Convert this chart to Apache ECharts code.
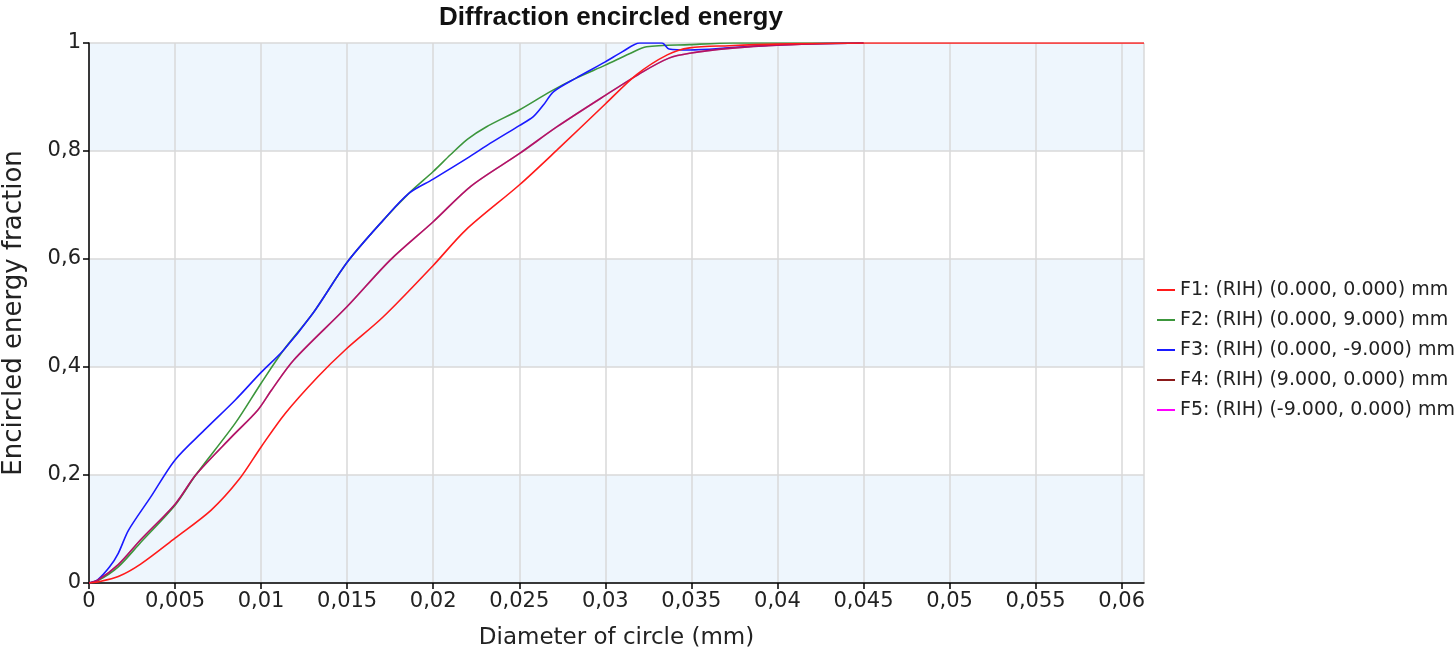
<!DOCTYPE html>
<html>
<head>
<meta charset="utf-8">
<script src="https://cdn.jsdelivr.net/npm/echarts@6/dist/echarts.min.js"></script>
<style>
html,body{margin:0;padding:0;background:#fff;}
#chart{width:1456px;height:655px;}
</style>
</head>
<body>
<div id="chart"></div>
<script>
// Data: [diameter (mm), encircled energy fraction]
const seriesNames = [
  'F1: (RIH) (0.000, 0.000) mm',
  'F2: (RIH) (0.000, 9.000) mm',
  'F3: (RIH) (0.000, -9.000) mm',
  'F4: (RIH) (9.000, 0.000) mm',
  'F5: (RIH) (-9.000, 0.000) mm'
];
const xTickValues = [0,0.005,0.01,0.015,0.02,0.025,0.03,0.035,0.04,0.045,0.05,0.055,0.06];
const yTickValues = [0,0.2,0.4,0.6,0.8,1];

const f1 = [[0,0],[0.0005,0.002],[0.0017,0.012],[0.003,0.035],[0.005,0.083],[0.0071,0.135],[0.0087,0.191],[0.01,0.252],[0.0114,0.314],[0.0133,0.382],[0.0149,0.432],[0.0171,0.493],[0.02,0.588],[0.0219,0.654],[0.025,0.737],[0.0272,0.802],[0.03,0.887],[0.0318,0.941],[0.0336,0.978],[0.0349,0.991],[0.0372,0.995],[0.04,0.998],[0.045,1.0],[0.0613,1.0]];
const f2 = [[0,0],[0.0005,0.004],[0.0017,0.03],[0.003,0.075],[0.005,0.144],[0.0062,0.2],[0.0085,0.296],[0.01,0.37],[0.0113,0.431],[0.013,0.499],[0.015,0.594],[0.0171,0.672],[0.0186,0.722],[0.02,0.762],[0.021,0.793],[0.022,0.822],[0.0231,0.845],[0.025,0.876],[0.0268,0.91],[0.0283,0.935],[0.03,0.959],[0.0314,0.98],[0.0324,0.993],[0.0349,0.997],[0.0374,1.0],[0.045,1.0]];
const f3 = [[0,0],[0.0005,0.006],[0.0012,0.03],[0.0017,0.055],[0.0023,0.098],[0.0036,0.16],[0.005,0.228],[0.0067,0.283],[0.0085,0.339],[0.01,0.39],[0.0113,0.431],[0.013,0.499],[0.015,0.594],[0.0171,0.672],[0.0186,0.722],[0.02,0.748],[0.0221,0.789],[0.0233,0.814],[0.025,0.847],[0.0258,0.863],[0.0264,0.885],[0.027,0.91],[0.0283,0.935],[0.03,0.965],[0.031,0.984],[0.032,1.0],[0.0333,1.0],[0.0337,0.989],[0.0349,0.987],[0.0372,0.991],[0.04,0.997],[0.045,1.0]];
const f4 = [[0,0],[0.0005,0.005],[0.0017,0.034],[0.003,0.08],[0.005,0.146],[0.0062,0.2],[0.0083,0.271],[0.0098,0.32],[0.0106,0.357],[0.0119,0.413],[0.015,0.512],[0.0175,0.598],[0.02,0.669],[0.0222,0.735],[0.025,0.795],[0.0272,0.845],[0.03,0.903],[0.0322,0.947],[0.0337,0.972],[0.0349,0.981],[0.0372,0.99],[0.04,0.996],[0.045,1.0]];
const f5 = [[0,0],[0.0005,0.005],[0.0017,0.034],[0.003,0.08],[0.005,0.146],[0.0062,0.2],[0.0083,0.271],[0.0098,0.32],[0.0106,0.357],[0.0119,0.413],[0.015,0.512],[0.0175,0.598],[0.02,0.669],[0.0222,0.735],[0.025,0.795],[0.0272,0.845],[0.03,0.903],[0.0322,0.947],[0.0337,0.972],[0.0349,0.981],[0.0372,0.99],[0.04,0.996],[0.045,1.0]];
const seriesData = [f1, f2, f3, f4, f5];
const seriesColors = ['#ff1a1a', '#3c963c', '#1a1aff', '#8b1a1a', '#ff00ff'];
const seriesOpacity = [1, 1, 1, 1, 0.35];

function fmt(v) {
  return String(parseFloat(v.toFixed(4))).replace('.', ',');
}

const chart = echarts.init(document.getElementById('chart'), null, {renderer: 'canvas'});
chart.setOption({
  animation: false,
  backgroundColor: '#ffffff',
  title: {
    text: 'Diffraction encircled energy',
    left: 606,
    top: 0,
    textAlign: 'center',
    textStyle: {fontFamily: 'Liberation Sans', fontWeight: 'bold', fontSize: 26, color: '#111'}
  },
  legend: {
    orient: 'vertical',
    left: 1152,
    top: 275,
    itemWidth: 18,
    itemHeight: 2,
    itemGap: 10,
    icon: 'rect',
    textStyle: {fontFamily: 'DejaVu Sans', fontSize: 19, color: '#222', lineHeight: 20},
    data: seriesNames
  },
  grid: {left: 89, right: 312, top: 43, bottom: 72, outerBoundsMode: 'none'},
  xAxis: {
    type: 'value',
    min: 0,
    max: 0.0613,
    interval: 0.005,
    name: 'Diameter of circle (mm)',
    nameLocation: 'middle',
    nameGap: 44,
    nameTextStyle: {fontFamily: 'DejaVu Sans', fontSize: 23, color: '#222'},
    axisLine: {show: true, lineStyle: {color: '#000', width: 1.5}},
    axisTick: {show: true, length: 6, lineStyle: {color: '#000', width: 1.5}},
    axisLabel: {
      fontFamily: 'DejaVu Sans', fontSize: 21, color: '#222', margin: 8,
      showMaxLabel: false,
      formatter: fmt
    },
    splitLine: {show: true, lineStyle: {color: '#d9d9d9', width: 1.5}}
  },
  yAxis: {
    type: 'value',
    min: 0,
    max: 1,
    interval: 0.2,
    name: 'Encircled energy fraction',
    nameLocation: 'middle',
    nameGap: 62,
    nameTextStyle: {fontFamily: 'DejaVu Sans', fontSize: 26, color: '#222'},
    axisLine: {show: true, lineStyle: {color: '#000', width: 1.5}},
    axisTick: {show: true, length: 6, lineStyle: {color: '#000', width: 1.5}},
    axisLabel: {fontFamily: 'DejaVu Sans', fontSize: 21, color: '#222', margin: 8, formatter: fmt},
    splitLine: {show: true, lineStyle: {color: '#d9d9d9', width: 1.5}},
    splitArea: {show: true, areaStyle: {color: ['#eef6fd', '#ffffff']}}
  },
  series: seriesNames.map((n, i) => ({
    name: n,
    type: 'line',
    data: seriesData[i],
    symbol: 'none',
    smooth: 0.3,
    color: seriesColors[i],
    lineStyle: {width: 1.6, color: seriesColors[i], opacity: seriesOpacity[i]},
    itemStyle: {color: seriesColors[i]},
    z: i === 0 ? 3 : 2
  }))
});
</script>
</body>
</html>
